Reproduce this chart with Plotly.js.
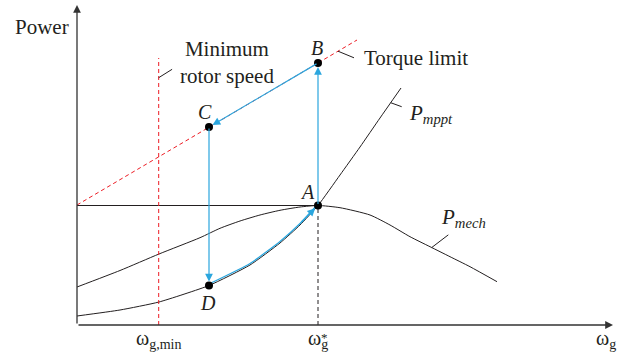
<!DOCTYPE html>
<html><head><meta charset="utf-8">
<script src="https://cdn.plot.ly/plotly-3.0.1.min.js"></script>
<style>html,body{margin:0;padding:0;background:#fff}#chart{width:625px;height:354px}</style>
</head><body><div id="chart"></div>
<script>
// ---- data (arbitrary units) ----
const pmechX = [0, 43, 82, 123, 143, 163, 183, 203, 223, 241, 263, 293, 313, 333, 353, 373, 393, 420];
const pmechY = [38, 54.5, 71, 87.3, 96.7, 104, 110, 114.7, 118, 119.5, 117.3, 110, 100, 88.3, 78.3, 68.3, 58.3, 43.3];
const mpptX  = [0, 43, 82, 132, 173, 203, 223, 241, 263, 283, 303, 324];
const mpptY  = [9, 15, 23, 39.5, 60, 82, 100, 119.5, 150, 178, 207, 237];
const torqueX = [0, 280];
const torqueY = [120, 285];
const minSpeedX = [81.7, 81.7];
const minSpeedY = [0, 267];
const pointNames = ['A', 'B', 'C', 'D'];
const pointX = [241, 241, 132, 132];
const pointY = [119.5, 262, 198, 39.5];
const tickVals = [81.7, 241, 529];
const tickText = ['ω<sub>g,min</sub>', 'ω<sub>g</sub>', 'ω<sub>g</sub>'];
const xMax = 536, yMax = 320;

const INK = '#231f20', RED = '#ed1c24', BLUE = '#2ba6de';
const FONT = 'Liberation Serif';

function interp(xs, ys, x) {
  for (let i = 0; i < xs.length - 1; i++) {
    if (x >= xs[i] && x <= xs[i + 1]) {
      const t = (x - xs[i]) / (xs[i + 1] - xs[i]);
      return ys[i] + t * (ys[i + 1] - ys[i]);
    }
  }
  return ys[ys.length - 1];
}
const P = {};
pointNames.forEach((n, i) => P[n] = {x: pointX[i], y: pointY[i]});

// blue path D -> A along the mppt curve
const iD = mpptX.indexOf(P.D.x), iA = mpptX.indexOf(P.A.x);
const pathX = mpptX.slice(iD, iA + 1);
const pathY = mpptY.slice(iD, iA + 1).map(v => v + 1.5);

const traces = [
  {x: pmechX, y: pmechY, mode: 'lines', line: {color: INK, width: 1, shape: 'spline', smoothing: 0.6}},
  {x: mpptX, y: mpptY, mode: 'lines', line: {color: INK, width: 1, shape: 'spline', smoothing: 0.5}},
  {x: [0, P.A.x], y: [P.A.y, P.A.y], mode: 'lines', line: {color: INK, width: 1}},
  {x: [P.A.x, P.A.x], y: [0, P.A.y], mode: 'lines', line: {color: INK, width: 1, dash: '4px,3px'}},
  {x: torqueX, y: torqueY, mode: 'lines', line: {color: RED, width: 1, dash: '4px,3px'}},
  {x: minSpeedX, y: minSpeedY, mode: 'lines', line: {color: RED, width: 1, dash: '4px,3px'}},
  {x: pathX, y: pathY, mode: 'lines', line: {color: BLUE, width: 1.3, shape: 'spline', smoothing: 0.5}},
  {x: pointX, y: pointY, mode: 'markers', marker: {color: '#000', size: 8}}
];

function arrow(from, to, color, opts) {
  return Object.assign({x: to.x, y: to.y, ax: from.x, ay: from.y, xref: 'x', yref: 'y', axref: 'x', ayref: 'y',
    text: '', showarrow: true, arrowhead: 2, arrowsize: 1.3, arrowwidth: 1.2, arrowcolor: color, standoff: 4}, opts || {});
}
function label(x, y, text, size, opts) {
  return Object.assign({x: x, y: y, xref: 'x', yref: 'y', text: text, showarrow: false,
    font: {family: FONT, size: size, color: INK}}, opts || {});
}

const annotations = [
  // axes
  arrow({x: 0, y: 0}, {x: xMax, y: 0}, '#333', {arrowhead: 2, arrowsize: 1.2, arrowwidth: 1.3, standoff: 0}),
  arrow({x: 0, y: 0}, {x: 0, y: yMax}, '#333', {arrowhead: 2, arrowsize: 1.2, arrowwidth: 1.3, standoff: 0}),
  // blue transitions
  arrow(P.A, P.B, BLUE),
  arrow(P.B, P.C, BLUE),
  arrow(P.C, P.D, BLUE),
  arrow({x: mpptX[iA - 1], y: mpptY[iA - 1] + 1.5}, P.A, BLUE),
  // texts
  label(0, 298, 'Power', 21, {xref: 'paper', xanchor: 'right', xshift: -6}),
  label(150, 262.5, 'Minimum<br>rotor speed', 21),
  label(285, 266.7, 'Torque limit', 21, {xanchor: 'left'}),
  label(330, 211, '<i>P<sub>mppt</sub></i>', 21, {xanchor: 'left'}),
  label(362, 107, '<i>P<sub>mech</sub></i>', 21, {xanchor: 'left'}),
  label(P.A.x, P.A.y, '<i>A</i>', 20, {xshift: -11, yshift: 14}),
  label(P.B.x, P.B.y, '<i>B</i>', 20, {xshift: -1, yshift: 15}),
  label(P.C.x, P.C.y, '<i>C</i>', 20, {xshift: -4, yshift: 15}),
  label(P.D.x, P.D.y, '<i>D</i>', 20, {xshift: -1, yshift: -17})
];
tickVals.forEach((v, i) => {
  annotations.push(label(v, 0, tickText[i], 20, {yanchor: 'top', yshift: 0}));
});
annotations.push(label(tickVals[1], 0, '*', 13, {yanchor: 'top', yshift: -3, xshift: 6}));

function leader(ax, ay, dx, dy) {
  return {type: 'line', xref: 'x', yref: 'y', xsizemode: 'pixel', ysizemode: 'pixel',
    xanchor: ax, yanchor: ay, x0: 0, y0: 0, x1: dx, y1: dy, line: {color: INK, width: 1}};
}
const shapes = [
  leader(261, interp(torqueX, torqueY, 261), 16, -6.6),
  leader(313.7, interp(mpptX, mpptY, 313.7), 11, -4),
  leader(354.7, interp(pmechX, pmechY, 354.7), 16.6, 12.7),
  leader(minSpeedX[0], 247.3, 13.4, 8.4)
];

const layout = {
  width: 625, height: 354,
  margin: {l: 77, r: 12, t: 5, b: 29},
  paper_bgcolor: '#fff', plot_bgcolor: '#fff',
  showlegend: false,
  font: {family: FONT, color: INK},
  xaxis: {range: [0, xMax], visible: false, fixedrange: true},
  yaxis: {range: [0, yMax], visible: false, fixedrange: true},
  annotations: annotations,
  shapes: shapes
};
Plotly.newPlot('chart', traces, layout, {displayModeBar: false, staticPlot: true});
</script>
</body></html>
